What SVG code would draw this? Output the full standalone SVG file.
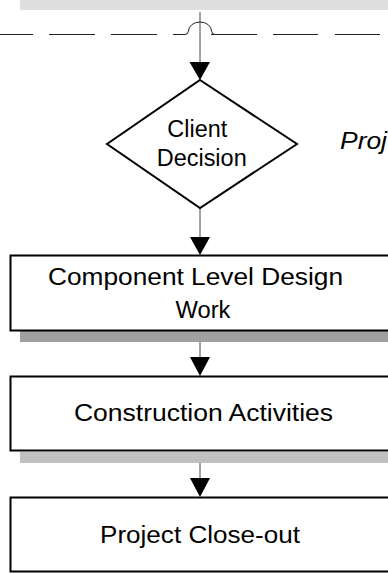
<svg xmlns="http://www.w3.org/2000/svg" width="388" height="574" viewBox="0 0 388 574">
  <defs>
    <style>
      .box { fill: #ffffff; stroke: #000000; stroke-width: 2; }
      .lbl { font-family: "Liberation Sans", Arial, sans-serif; font-size: 23.5px; fill: #000000; text-anchor: middle; }
      .conn { stroke: #444444; stroke-width: 1; fill: none; }
      .dash { stroke: #222222; stroke-width: 1; fill: none; }
      .head { fill: #000000; stroke: none; }
    </style>
  </defs>
  <rect width="388" height="574" fill="#ffffff"/>

  <!-- top shadow bar of box above -->
  <rect x="20" y="0" width="368" height="10" fill="#dfdfdf"/>

  <!-- dashed boundary line with hop -->
  <g id="boundary">
    <path class="dash" d="M0,34.5H33 M49,34.5H95 M111,34.5H157 M173,34.5H185 Q188,34.5 188.5,31 A11.5,9 0 0 1 211.5,31 Q212,34.5 215,34.5 M211,34.5H257 M273,34.5H318 M335,34.5H380"/>
  </g>

  <!-- connectors -->
  <g id="connectors">
    <line class="conn" x1="200" y1="12" x2="200" y2="63"/>
    <polygon class="head" points="189.5,62 210,62 200,80"/>
    <line class="conn" x1="200" y1="208" x2="200" y2="238"/>
    <polygon class="head" points="190,237 210,237 200,255"/>
    <line class="conn" x1="200" y1="342" x2="200" y2="358"/>
    <polygon class="head" points="190,357 210,357 200,376"/>
    <line class="conn" x1="200" y1="463" x2="200" y2="479"/>
    <polygon class="head" points="190,478 210,478 200,497"/>
  </g>

  <g id="client-decision">
    <polygon class="box" points="200,80 297,144 200,208 107,144"/>
    <text class="lbl" x="197.3" y="137" textLength="60" lengthAdjust="spacingAndGlyphs">Client</text>
    <text class="lbl" x="201.7" y="165.5" textLength="90" lengthAdjust="spacingAndGlyphs">Decision</text>
  </g>

  <g id="project-label">
    <text x="340" y="148.5" font-family="'Liberation Sans', Arial, sans-serif" font-size="24" font-style="italic" fill="#000000" textLength="47" lengthAdjust="spacingAndGlyphs">Proj</text>
  </g>

  <g id="component-design">
    <rect x="20" y="331" width="380" height="11" fill="#a0a0a0"/>
    <rect class="box" x="10.5" y="255.5" width="390" height="75"/>
    <text class="lbl" x="195.5" y="284.5" textLength="295" lengthAdjust="spacingAndGlyphs">Component Level Design</text>
    <text class="lbl" x="203" y="317.5" textLength="55" lengthAdjust="spacingAndGlyphs">Work</text>
  </g>

  <g id="construction">
    <rect x="20" y="452" width="380" height="11" fill="#c0c0c0"/>
    <rect class="box" x="10.5" y="376.5" width="390" height="74"/>
    <text class="lbl" x="203.5" y="421" textLength="259" lengthAdjust="spacingAndGlyphs">Construction Activities</text>
  </g>

  <g id="closeout">
    <rect class="box" x="10.5" y="497.5" width="390" height="74"/>
    <text class="lbl" x="200" y="543" textLength="200" lengthAdjust="spacingAndGlyphs">Project Close-out</text>
  </g>
</svg>
